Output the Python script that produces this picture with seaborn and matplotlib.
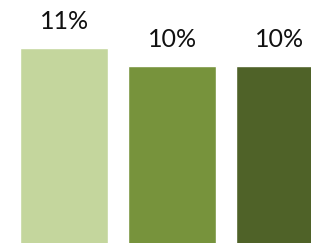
import matplotlib
matplotlib.use("Agg")
import matplotlib.pyplot as plt
import seaborn as sns
import pandas as pd

# ── Data ─────────────────────────────────────────────────────
categories = ["Group 1", "Group 2", "Group 3"]
shares = [11, 10, 10]
labels = ["11%", "10%", "10%"]
colors = ["#C4D69D", "#77933C", "#4F6228"]

df = pd.DataFrame({"category": categories, "share": shares})

sns.set_theme(style="white")
plt.rcParams["font.family"] = ["Lato", "DejaVu Sans"]

fig = plt.figure(figsize=(3.11, 2.43), dpi=100)
ax = fig.add_axes([0, 0, 1, 1])
sns.barplot(data=df, x="category", y="share", hue="category",
            palette=colors, legend=False, width=0.815,
            saturation=1, ax=ax)

for i, (v, lab) in enumerate(zip(shares, labels)):
    ax.annotate(lab, (i, v), xytext=(0, 14), textcoords="offset points",
                ha="center", va="baseline", fontsize=18, color="#111111")

ax.set_xlim(-0.593, 2.287)
ax.set_ylim(0.17, 13.67)
ax.axis("off")

fig.savefig("out.png", dpi=100)
